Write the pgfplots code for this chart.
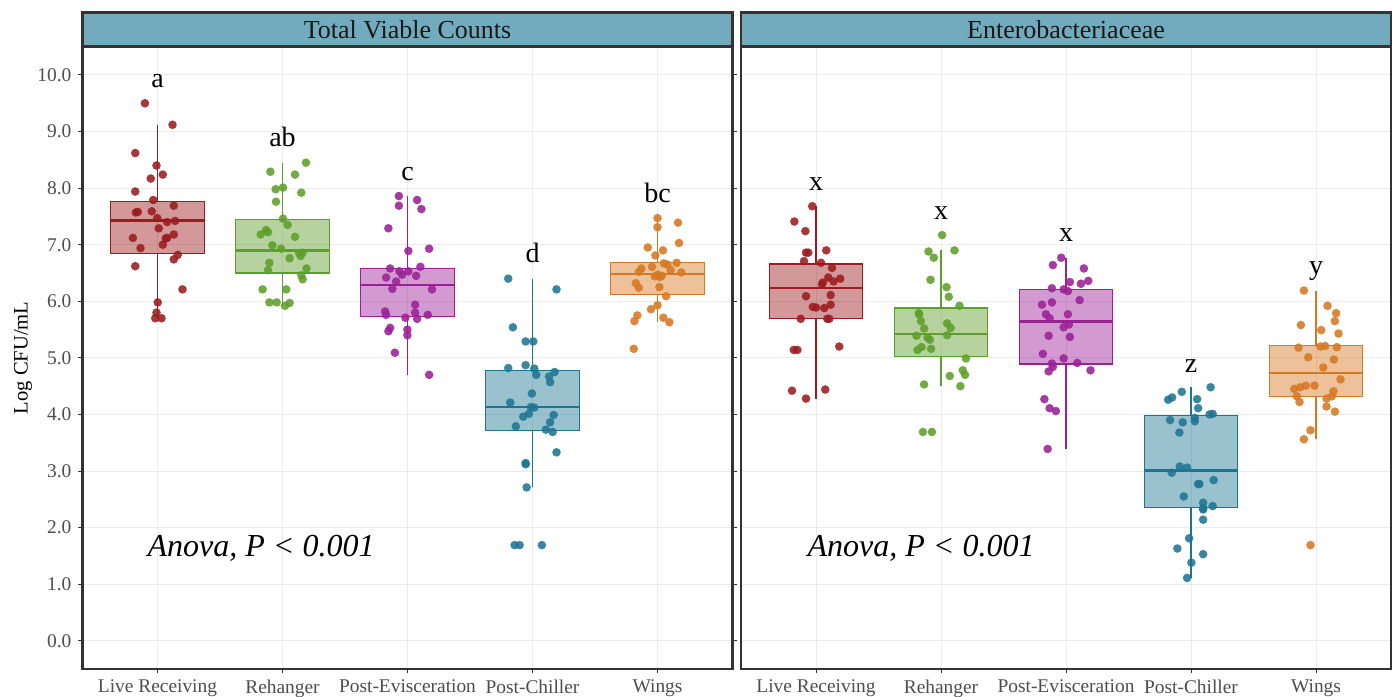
\documentclass[border=0pt]{standalone}
\usepackage{fontspec}
\setmainfont{Liberation Serif}
\usepackage{pgfplots}
\pgfplotsset{compat=1.18}
\usepgfplotslibrary{statistics}

\definecolor{cLR}{HTML}{9B1B1E}
\definecolor{cRH}{HTML}{5E9E2A}
\definecolor{cPE}{HTML}{9B2096}
\definecolor{cPC}{HTML}{1E7593}
\definecolor{cWI}{HTML}{D67821}
\definecolor{stripfill}{HTML}{72ABBE}
\definecolor{frame}{HTML}{333333}
\definecolor{gridc}{HTML}{EBEBEB}
\definecolor{tickc}{HTML}{4D4D4D}

% one box: colour, position, lower whisker, Q1, median, Q3, upper whisker
\newcommand{\bx}[7]{%
  \addplot[draw=#1, fill=#1, fill opacity=0.45, line width=0.6pt,
    boxplot prepared={draw position=#2, lower whisker=#3, lower quartile=#4,
      median=#5, upper quartile=#6, upper whisker=#7,
      box extend=0.75, whisker extend=0,
      every median/.style={line width=1.2pt},
      every whisker/.style={line width=0.75pt}}] coordinates {};}

\pgfplotsset{
  panel/.style={
    scale only axis, width=325pt, height=311.15pt,
    xmin=0.4, xmax=5.6, ymin=-0.5, ymax=10.5,
    boxplot/draw direction=y,
    xtick={1,2,3,4,5},
    xticklabels={Live Receiving,Rehanger,Post-Evisceration,Post-Chiller,Wings},
    ytick={0,1,2,3,4,5,6,7,8,9,10},
    grid=major, major grid style={color=gridc, line width=0.5pt},
    axis line style={color=frame, line width=1.4pt},
    tick align=outside, major tick length=2pt,
    tick style={color=frame, line width=0.5pt},
    ticklabel style={font=\fontsize{9.7}{11}\selectfont, text=tickc},
    yticklabel style={/pgf/number format/fixed, /pgf/number format/fixed zerofill,
      /pgf/number format/precision=1},
    /pgf/number format/assume math mode=true,
    clip=false,
  },
  pts/.style={only marks, color=#1, mark=*, mark size=2.15pt,
    mark options={fill=#1, draw opacity=0, fill opacity=0.88}},
}

\newcommand{\strip}[1]{%
  \draw[fill=stripfill, draw=frame, line width=1.4pt]
    (rel axis cs:0,1) rectangle (rel axis cs:1,1.0546);
  \node[font=\fontsize{13}{15}\selectfont, text=black!90] at (rel axis cs:0.5,1.0273) {#1};}

\newcommand{\lett}[3]{\node[anchor=base, font=\fontsize{14}{16}\selectfont] at (axis cs:#1,#2) {#3};}

\begin{document}
\begin{tikzpicture}
\useasboundingbox (0,0) rectangle (698.5pt,-348pt);

% ---------- Total Viable Counts ----------
\begin{axis}[panel, at={(41.25pt,-334.5pt)}, anchor=south west,
  ylabel={Log CFU/mL},
  ylabel style={at={(rel axis cs:-0.0915,0.5)}, anchor=center,
    font=\fontsize{10.3}{12}\selectfont}]
\bx{cLR}{1}{5.70}{6.84}{7.43}{7.76}{9.12}
\addplot[pts=cLR] coordinates {
(0.899,9.50) (1.120,9.12) (0.822,8.62) (0.992,8.40) (1.042,8.24) (0.946,8.17)
(0.822,7.94) (0.966,7.79) (1.130,7.69) (0.827,7.57) (0.843,7.58) (0.954,7.59)
(0.998,7.47) (1.077,7.40) (1.141,7.42) (1.010,7.29) (1.077,7.12) (1.066,7.11)
(1.130,7.18) (0.803,7.12) (0.864,6.94) (1.042,7.00) (1.162,6.82) (1.130,6.74)
(0.822,6.62) (1.200,6.21) (1.002,5.98) (0.992,5.80) (0.982,5.70) (1.032,5.70)};

\bx{cRH}{2}{5.92}{6.50}{6.90}{7.44}{8.45}
\addplot[pts=cRH] coordinates {
(2.188,8.45) (1.903,8.29) (2.100,8.24) (1.945,7.98) (2.004,8.01) (2.150,7.92)
(1.948,7.76) (2.004,7.46) (2.041,7.35) (1.868,7.26) (1.884,7.22) (1.825,7.18)
(2.100,7.14) (1.919,6.99) (1.988,6.93) (2.134,6.85) (2.161,6.86) (2.145,6.80)
(2.057,6.76) (1.895,6.68) (1.884,6.55) (2.192,6.58) (2.150,6.46) (2.161,6.39)
(1.841,6.21) (2.030,6.21) (1.895,5.98) (1.953,5.98) (2.020,5.92) (2.057,5.97)};

\bx{cPE}{3}{4.70}{5.73}{6.29}{6.58}{7.86}
\addplot[pts=cPE] coordinates {
(2.931,7.86) (3.077,7.79) (2.931,7.69) (3.111,7.63) (2.847,7.29) (3.007,6.89)
(3.173,6.93) (2.861,6.58) (3.103,6.61) (2.935,6.53) (2.957,6.47) (3.007,6.53)
(3.069,6.45) (2.829,6.42) (2.909,6.35) (2.879,6.22) (3.196,6.21) (3.061,5.94)
(2.821,5.82) (2.829,5.76) (3.061,5.80) (3.162,5.76) (2.983,5.71) (3.077,5.69)
(2.861,5.53) (2.847,5.47) (2.999,5.50) (2.999,5.40) (2.899,5.09) (3.173,4.70)};

\bx{cPC}{4}{2.71}{3.71}{4.13}{4.78}{6.40}
\addplot[pts=cPC] coordinates {
(3.806,6.40) (4.192,6.21) (3.843,5.54) (3.945,5.29) (4.006,5.29) (3.806,4.82)
(3.945,4.87) (4.014,4.81) (4.030,4.70) (4.177,4.75) (4.133,4.67) (4.141,4.57)
(3.995,4.37) (3.822,4.21) (4.014,4.12) (3.987,4.13) (3.971,4.01) (3.926,3.96)
(4.169,3.99) (4.141,3.86) (3.867,3.79) (4.107,3.73) (4.161,3.69) (4.192,3.33)
(3.945,3.14) (3.945,3.12) (3.953,2.71) (3.857,1.69) (3.897,1.69) (4.075,1.69)};

\bx{cWI}{5}{5.63}{6.12}{6.48}{6.68}{7.47}
\addplot[pts=cWI] coordinates {
(5.000,7.47) (5.164,7.39) (5.000,7.31) (5.172,7.03) (4.922,6.95) (5.044,6.90)
(4.983,6.81) (5.050,6.67) (5.079,6.65) (5.153,6.68) (4.956,6.61) (4.871,6.58)
(4.850,6.52) (5.105,6.55) (5.191,6.51) (4.978,6.44) (5.018,6.43) (5.034,6.45)
(4.826,6.32) (4.850,6.24) (5.015,6.25) (5.068,6.09) (5.000,5.93) (4.948,5.86)
(4.839,5.75) (4.815,5.65) (5.047,5.71) (5.095,5.63) (4.810,5.16) (5.002,6.47)};

\lett{1}{9.78}{a}
\lett{2}{8.73}{ab}
\lett{3}{8.14}{c}
\lett{4}{6.68}{d}
\lett{5}{7.75}{bc}
\node[anchor=base west, inner sep=0pt, font=\fontsize{16}{18}\selectfont\itshape]
  at (axis cs:0.918,1.49) {Anova, P < 0.001};
\strip{Total Viable Counts}
\end{axis}

% ---------- Enterobacteriaceae ----------
\begin{axis}[panel, at={(370.5pt,-334.5pt)}, anchor=south west,
  yticklabels={}, ytick style={draw=none}]
\bx{cLR}{1}{4.28}{5.69}{6.24}{6.66}{7.68}
\addplot[pts=cLR] coordinates {
(0.970,7.68) (0.827,7.41) (0.915,7.24) (0.920,6.86) (0.938,6.86) (1.082,6.90)
(0.904,6.71) (1.040,6.68) (1.128,6.59) (1.098,6.42) (1.194,6.40) (1.141,6.35)
(1.054,6.33) (1.048,6.30) (0.920,6.09) (1.117,6.11) (1.117,5.94) (0.974,5.90)
(1.000,5.89) (1.066,5.88) (0.878,5.69) (1.090,5.69) (1.106,5.69) (0.822,5.14)
(0.851,5.14) (1.186,5.20) (0.808,4.42) (1.074,4.44) (0.920,4.28)};

\bx{cRH}{2}{4.50}{5.03}{5.42}{5.88}{6.90}
\addplot[pts=cRH] coordinates {
(2.009,7.17) (1.900,6.88) (2.108,6.90) (1.942,6.77) (1.916,6.38) (2.044,6.25)
(2.062,6.08) (2.148,5.92) (1.823,5.79) (1.825,5.77) (1.839,5.65) (1.865,5.52)
(2.049,5.61) (2.078,5.53) (1.804,5.39) (2.049,5.40) (1.892,5.36) (1.911,5.32)
(1.844,5.19) (1.812,5.14) (1.921,5.16) (2.200,4.99) (2.174,4.78) (2.192,4.70)
(2.070,4.68) (1.865,4.53) (2.155,4.50) (1.855,3.69) (1.927,3.69)};

\bx{cPE}{3}{3.39}{4.89}{5.64}{6.21}{6.77}
\addplot[pts=cPE] coordinates {
(2.962,6.77) (2.895,6.64) (3.143,6.58) (3.031,6.34) (3.119,6.31) (3.178,6.36)
(2.887,6.23) (2.981,6.21) (3.015,6.18) (3.109,6.02) (2.808,5.94) (2.887,5.98)
(2.839,5.77) (2.869,5.70) (3.015,5.77) (3.023,5.59) (2.981,5.54) (2.861,5.39)
(3.031,5.37) (2.815,5.07) (2.981,4.99) (2.887,4.90) (2.895,4.84) (2.861,4.76)
(3.090,4.91) (3.196,4.78) (2.827,4.27) (2.869,4.11) (2.919,4.06) (2.853,3.39)};

\bx{cPC}{4}{1.11}{2.36}{3.01}{3.98}{4.48}
\addplot[pts=cPC] coordinates {
(4.157,4.48) (3.926,4.40) (3.817,4.26) (3.849,4.30) (4.049,4.27) (4.057,4.11)
(4.149,4.00) (4.173,4.01) (3.833,3.90) (3.934,3.86) (4.030,3.94) (4.030,3.88)
(3.907,3.68) (3.910,3.08) (3.969,3.06) (3.846,2.97) (4.057,2.77) (4.067,2.77)
(4.181,2.84) (3.942,2.55) (4.097,2.44) (4.097,2.34) (4.097,2.32) (4.173,2.38)
(4.097,2.14) (3.985,1.81) (3.891,1.63) (4.097,1.53) (4.003,1.38) (3.969,1.11)};

\bx{cWI}{5}{3.56}{4.32}{4.73}{5.22}{6.19}
\addplot[pts=cWI] coordinates {
(4.903,6.19) (5.092,5.92) (5.161,5.79) (5.151,5.65) (4.879,5.58) (5.042,5.49)
(5.180,5.43) (4.860,5.18) (5.036,5.20) (5.073,5.21) (5.167,5.19) (4.938,5.01)
(5.143,4.97) (5.058,4.83) (5.196,4.62) (4.826,4.45) (4.874,4.48) (4.919,4.51)
(4.988,4.51) (5.140,4.41) (5.127,4.32) (4.847,4.32) (4.868,4.22) (5.084,4.28)
(5.084,4.14) (5.151,4.05) (4.956,3.72) (4.903,3.56) (4.956,1.69)};

\lett{1}{7.96}{x}
\lett{2}{7.45}{x}
\lett{3}{7.05}{x}
\lett{4}{4.75}{z}
\lett{5}{6.48}{y}
\node[anchor=base west, inner sep=0pt, font=\fontsize{16}{18}\selectfont\itshape]
  at (axis cs:0.93,1.49) {Anova, P < 0.001};
\strip{Enterobacteriaceae}
\end{axis}
\end{tikzpicture}
\end{document}
